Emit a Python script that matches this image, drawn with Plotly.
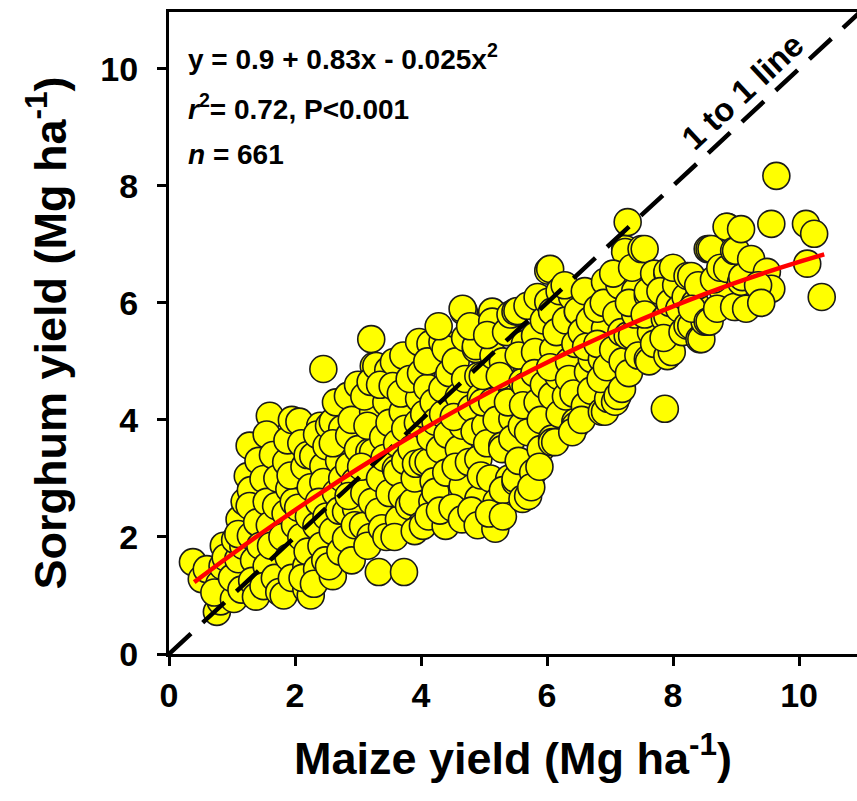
import plotly.graph_objects as go

# Maize yield (x) and sorghum yield (y), Mg ha-1
maize = [
    0.38, 0.52, 0.60,
    0.76, 0.82, 0.80, 0.85, 0.87, 0.72, 0.90,
    1.03, 1.00, 1.10, 1.05, 1.12, 1.15, 1.18, 1.20, 1.10,
    1.28, 1.25, 1.30, 1.28, 1.30, 1.35, 1.32, 1.40, 1.42, 1.38, 1.45,
    1.60, 1.55, 1.50, 1.55, 1.60, 1.55, 1.50, 1.62, 1.65, 1.70, 1.68, 1.75, 1.72,
    1.86, 1.91, 1.85, 1.80, 1.90, 1.82, 1.95, 1.88, 1.95, 2.00, 1.98, 1.93,
    2.07, 2.10, 2.15, 2.05, 2.10, 2.18, 2.18, 2.25, 2.20, 2.22, 2.25, 2.20, 2.12,
    2.29, 2.34, 2.45, 2.45, 2.45, 2.40, 2.35, 2.38, 2.42, 2.35, 2.48, 2.50, 2.30, 2.50,
    2.54, 2.60, 2.60, 2.54, 2.60, 2.65, 2.70, 2.65, 2.72, 2.70, 2.75, 2.60, 2.75,
    2.81, 2.81, 2.84, 2.86, 2.86, 2.97, 2.90, 2.95, 2.90, 3.00, 2.95, 3.00, 2.85,
    3.08, 3.18, 3.21, 3.24, 3.25, 3.24, 3.10, 3.15, 3.10, 3.20, 3.22, 3.05, 3.15, 3.20,
    3.33, 3.33, 3.29, 3.35, 3.40, 3.45, 3.38, 3.50, 3.42, 3.48, 3.35, 3.50, 3.45,
    3.57, 3.55, 3.60, 3.62, 3.71, 3.73, 3.65, 3.70, 3.62, 3.75, 3.68, 3.72, 3.58, 3.75,
    3.81, 3.87, 3.97, 3.97, 3.90, 3.85, 3.95, 3.82, 4.00, 3.90, 4.00, 3.92,
    4.03, 4.03, 4.12, 4.15, 4.10, 4.15, 4.05, 4.18, 4.20, 4.10, 4.20, 4.12,
    4.23, 4.23, 4.34, 4.34, 4.39, 4.39, 4.30, 4.40, 4.35, 4.45, 4.30, 4.42, 4.28,
    4.60, 4.66, 4.66, 4.68, 4.66, 4.55, 4.60, 4.50, 4.55, 4.70, 4.65, 4.70, 4.52,
    4.76, 4.87, 4.87, 4.91, 4.91, 4.91, 4.80, 4.85, 4.80, 4.95, 4.78, 4.90, 4.95,
    5.02, 4.98, 4.98, 5.13, 5.13, 5.13, 5.18, 5.10, 5.05, 5.15, 5.20, 5.08, 5.20, 5.05,
    5.29, 5.29, 5.45, 5.45, 5.45, 5.45, 5.30, 5.35, 5.40, 5.30, 5.38, 5.25, 5.42, 5.30,
    5.50, 5.53, 5.50, 5.50, 5.61, 5.61, 5.66, 5.69, 5.55, 5.60, 5.70, 5.65, 5.55, 5.70, 5.62,
    5.81, 5.81, 5.80, 5.85, 5.90, 5.78, 5.85, 5.95, 5.90, 5.75, 5.95, 5.88,
    6.02, 6.05, 6.02, 6.08, 6.08, 6.08, 6.08, 6.13, 6.18, 6.10, 6.15, 6.20, 6.05, 6.20,
    6.45, 6.45, 6.40, 6.30, 6.35, 6.30, 6.40, 6.35, 6.45, 6.28, 6.42,
    6.49, 6.49, 6.60, 6.65, 6.71, 6.55, 6.60, 6.70, 6.55, 6.68, 6.62,
    6.87, 6.87, 6.92, 6.92, 6.92, 6.97, 6.80, 6.85, 6.90, 6.80, 6.95,
    7.08, 7.12, 7.19, 7.24, 7.24, 7.05, 7.10, 7.15, 7.20, 7.05, 7.18,
    7.28, 7.28, 7.35, 7.30, 7.40, 7.35, 7.40, 7.45, 7.30,
    7.50, 7.55, 7.60, 7.60, 7.60, 7.62, 7.65, 7.55, 7.70, 7.70,
    7.87, 7.87, 7.91, 7.91, 7.91, 7.91, 7.98, 7.80, 7.85, 7.95,
    8.05, 8.10, 8.15, 8.00, 8.20,
    8.23, 8.23, 8.29, 8.29, 8.42, 8.45, 8.50, 8.35, 8.40, 8.30,
    8.55, 8.55, 8.58, 8.61, 8.58, 8.78, 8.65, 8.70, 8.75,
    8.86, 8.85, 8.86, 8.97, 9.00, 9.00, 8.97, 9.08, 9.08, 9.10, 9.16,
    9.24, 9.49, 9.56, 9.56, 9.64, 9.35, 9.40,
    10.11, 10.24, 10.13, 10.36,
]
sorghum = [
    1.57, 1.28, 1.45,
    0.72, 0.90, 1.20, 1.50, 1.85, 1.05, 1.65,
    0.94, 1.30, 1.62, 1.95, 2.30, 1.10, 1.85, 2.60, 2.05,
    3.56, 3.04, 2.80, 2.53, 2.02, 1.60, 1.25, 2.25, 3.30, 0.98, 1.85,
    4.07, 3.75, 2.99, 2.60, 2.20, 1.50, 1.16, 1.85, 3.40, 2.53, 1.30, 1.06, 3.00,
    3.28, 2.82, 2.40, 2.00, 1.65, 1.00, 1.30, 3.65, 4.00, 2.20, 2.60, 3.05,
    3.97, 3.60, 3.20, 2.50, 2.00, 1.50, 1.11, 1.00, 1.75, 2.35, 2.85, 3.40, 1.30,
    3.38, 2.19, 3.21, 2.94, 4.87, 3.90, 3.75, 2.60, 1.85, 1.45, 1.60, 2.35, 1.20, 3.55,
    3.90, 3.97, 1.33, 1.50, 2.10, 2.75, 3.30, 4.30, 1.75, 2.45, 3.85, 3.60, 3.00,
    2.43, 1.97, 4.41, 3.73, 3.21, 2.48, 1.60, 2.95, 4.00, 3.50, 2.20, 4.60, 2.70,
    2.19, 3.45, 5.38, 4.14, 4.92, 3.45, 2.75, 3.90, 4.40, 2.00, 2.60, 3.20, 1.85, 4.65,
    1.40, 2.43, 4.92, 3.00, 3.70, 4.30, 2.15, 2.75, 3.35, 4.85, 4.60, 3.95, 2.00,
    4.99, 4.58, 3.16, 3.10, 4.14, 1.40, 2.30, 2.70, 3.60, 3.85, 4.45, 5.10, 2.00, 3.30,
    2.53, 2.60, 5.33, 4.36, 3.00, 3.50, 3.95, 4.70, 2.20, 2.10, 4.80, 3.25,
    3.28, 2.19, 3.28, 5.30, 4.55, 3.70, 4.10, 2.60, 2.95, 5.00, 4.30, 2.35,
    3.97, 2.77, 4.53, 5.33, 2.19, 5.21, 3.50, 3.10, 4.10, 4.80, 2.45, 3.75, 5.60,
    3.50, 3.90, 2.87, 5.85, 5.90, 5.00, 4.40, 2.50, 3.20, 4.70, 2.30, 5.40, 4.05,
    3.28, 5.21, 5.26, 4.75, 3.33, 2.65, 4.20, 3.80, 2.45, 4.40, 5.60, 2.20, 3.05,
    3.90, 4.30, 4.75, 5.85, 5.68, 4.31, 2.14, 3.00, 3.60, 5.10, 2.60, 2.40, 4.00, 5.45,
    3.56, 3.50, 4.58, 4.02, 4.53, 3.68, 5.00, 5.50, 3.00, 2.80, 4.30, 4.75, 5.80, 2.35,
    5.85, 5.86, 2.94, 2.99, 4.65, 2.65, 4.58, 5.95, 3.30, 3.90, 3.79, 5.30, 5.10, 2.70, 4.25,
    5.44, 5.16, 4.80, 4.30, 3.50, 3.10, 6.10, 5.70, 4.00, 2.85, 4.60, 3.20,
    6.55, 6.58, 6.02, 5.85, 4.41, 3.68, 3.62, 3.62, 4.75, 5.20, 5.50, 4.10, 4.90, 6.20,
    3.97, 3.90, 3.79, 4.40, 5.00, 5.70, 6.10, 4.70, 5.30, 6.30, 4.45,
    5.85, 5.86, 4.24, 4.82, 5.04, 5.50, 6.20, 4.50, 4.00, 5.70, 5.25,
    4.14, 5.04, 6.36, 5.56, 4.14, 4.36, 5.90, 4.70, 6.00, 5.30, 4.90,
    4.31, 4.41, 4.53, 6.92, 6.87, 5.20, 5.80, 6.30, 5.00, 6.50, 5.50,
    7.38, 5.44, 5.44, 4.80, 6.20, 6.60, 5.80, 5.10, 6.00,
    6.92, 6.92, 6.12, 6.19, 5.04, 5.00, 5.50, 5.80, 6.50, 5.30,
    4.19, 5.73, 6.50, 6.53, 5.78, 5.09, 5.16, 6.20, 5.40, 6.00,
    6.30, 5.90, 5.50, 6.60, 6.10,
    5.61, 6.46, 6.46, 5.61, 5.38, 5.38, 5.68, 6.00, 6.30, 5.90,
    5.68, 6.92, 6.92, 6.92, 5.68, 6.24, 6.40, 5.90, 6.60,
    7.30, 7.30, 6.58, 6.89, 6.89, 5.93, 5.93, 7.26, 6.36, 6.44, 5.90,
    6.75, 6.53, 7.35, 6.24, 8.17, 6.30, 6.00,
    7.35, 7.18, 6.67, 6.10,
]
assert len(maize) == len(sorghum)

# Quadratic fit shown on the chart: y = 0.9 + 0.83x - 0.025x^2
fit_coef = [0.9, 0.83, -0.025]
fit_x = [0.4, 1.0, 1.5, 2.0, 2.5, 3.0, 3.5, 4.0, 4.5, 5.0, 5.5, 6.0, 6.5,
         7.0, 7.5, 8.0, 8.5, 9.0, 9.5, 10.0, 10.4]
fit_y = [fit_coef[0] + fit_coef[1] * v + fit_coef[2] * v * v for v in fit_x]

one_to_one = [0, 11]

font_family = "Arial, Liberation Sans, sans-serif"

fig = go.Figure()
fig.add_trace(go.Scatter(
    x=maize, y=sorghum, mode="markers",
    marker=dict(size=27, color="#FFFF00", line=dict(color="#1a1a1a", width=1.6)),
    showlegend=False, hoverinfo="skip"))
fig.add_trace(go.Scatter(
    x=one_to_one, y=one_to_one, mode="lines",
    line=dict(color="black", width=4.5, dash="30px,16px"),
    showlegend=False, hoverinfo="skip"))
fig.add_trace(go.Scatter(
    x=fit_x, y=fit_y, mode="lines",
    line=dict(color="#FF0000", width=4.5, shape="spline"),
    showlegend=False, hoverinfo="skip"))

ann_font = dict(family=font_family, size=28, color="black", weight="bold")
fig.add_annotation(x=0.27, y=10.2, xref="x", yref="y", xanchor="left", yanchor="middle",
                   text="y = 0.9 + 0.83x - 0.025x<sup>2</sup>", showarrow=False, font=ann_font)
fig.add_annotation(x=0.27, y=9.35, xref="x", yref="y", xanchor="left", yanchor="middle",
                   text="<i>r</i><sup>2</sup>= 0.72, P&lt;0.001", showarrow=False, font=ann_font)
fig.add_annotation(x=0.27, y=8.53, xref="x", yref="y", xanchor="left", yanchor="middle",
                   text="<i>n</i> = 661", showarrow=False, font=ann_font)
fig.add_annotation(x=9.1, y=9.62, xref="x", yref="y", xanchor="center", yanchor="middle",
                   text="1 to 1 line", textangle=-43, showarrow=False,
                   font=dict(family=font_family, size=33, color="black", weight="bold"))

axis_common = dict(
    showgrid=False, zeroline=False, showline=True, linecolor="black", linewidth=3,
    ticks="outside", ticklen=9, tickwidth=2.5, tickcolor="black",
    tickfont=dict(family=font_family, size=34, color="black", weight="bold"),
    tickvals=[0, 2, 4, 6, 8, 10],
)
fig.update_xaxes(range=[0, 10.92], mirror=True, ticklabelstandoff=0,
                 title=dict(text="Maize yield (Mg ha<sup>-1</sup>)", standoff=30,
                            font=dict(family=font_family, size=45, color="black", weight="bold")),
                 **axis_common)
fig.update_yaxes(range=[0, 10.97], ticklabelstandoff=12,
                 title=dict(text="Sorghum yield (Mg ha<sup>-1</sup>)", standoff=20,
                            font=dict(family=font_family, size=45, color="black", weight="bold")),
                 **axis_common)
fig.update_layout(
    width=857, height=801,
    margin=dict(l=169, r=0, t=12, b=147),
    plot_bgcolor="white", paper_bgcolor="white",
)
fig.write_html("out.html")
